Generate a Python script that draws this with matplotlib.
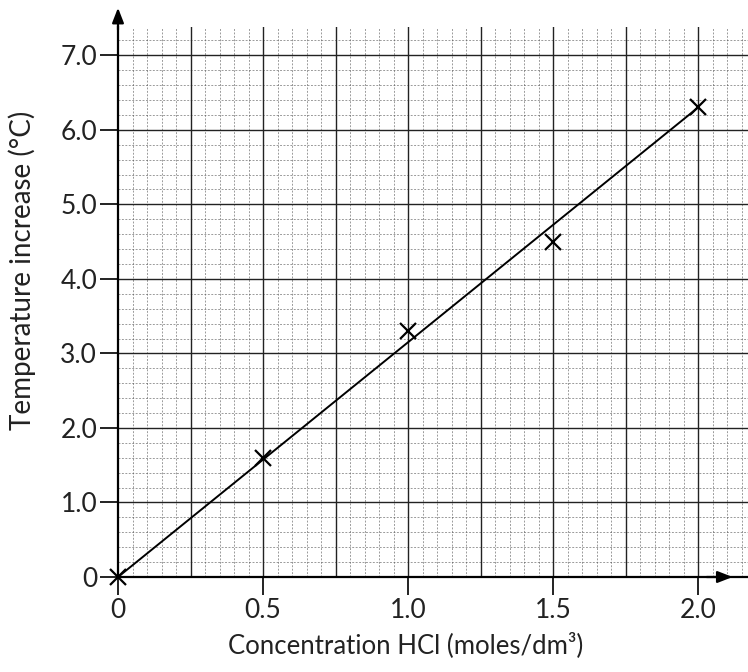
import matplotlib
matplotlib.use("Agg")
import matplotlib.pyplot as plt
from matplotlib.ticker import MultipleLocator

# Data
conc = [0.0, 0.5, 1.0, 1.5, 2.0]
temp_increase = [0.0, 1.6, 3.3, 4.5, 6.3]
fit_x = [0.0, 2.0]
fit_y = [0.0, 6.3]
xtick_vals = [0.0, 0.5, 1.0, 1.5, 2.0]
xtick_labels = ["0", "0.5", "1.0", "1.5", "2.0"]
ytick_vals = [0, 1, 2, 3, 4, 5, 6, 7]
ytick_labels = ["0", "1.0", "2.0", "3.0", "4.0", "5.0", "6.0", "7.0"]

plt.rcParams['font.family'] = ['Lato', 'DejaVu Sans']

fig = plt.figure(figsize=(7.48, 6.72), dpi=100)
ax = fig.add_axes([118/748, 95/672, 630/748, 550/672])

ax.set_xlim(0, 2.172)
ax.set_ylim(0, 7.38)

# graph paper grid
ax.xaxis.set_minor_locator(MultipleLocator(0.05))
ax.yaxis.set_minor_locator(MultipleLocator(0.2))
ax.grid(which='minor', color='#555555', linestyle=(0, (2.5, 2)), linewidth=0.55, alpha=0.75)
for gx in [i * 0.25 for i in range(1, 9)]:
    ax.axvline(gx, color='#222222', linewidth=1.0, zorder=1)
for gy in range(1, 8):
    ax.axhline(gy, color='#222222', linewidth=1.0, zorder=1)
ax.set_axisbelow(True)

# fitted line and data points
ax.plot(fit_x, fit_y, color='black', linewidth=1.4, zorder=3)
ax.plot(conc, temp_increase, linestyle='none', marker='x', markersize=11,
        markeredgewidth=1.6, color='black', zorder=4, clip_on=False)

# ticks
ax.set_xticks(xtick_vals)
ax.set_xticklabels(xtick_labels)
ax.set_yticks(ytick_vals)
ax.set_yticklabels(ytick_labels)
ax.tick_params(axis='both', which='major', direction='out', length=13, width=1.4,
               labelsize=19, colors='#222222')
ax.tick_params(axis='x', pad=2)
ax.tick_params(axis='y', pad=2)
ax.tick_params(which='minor', length=0)

for s in ['top', 'right']:
    ax.spines[s].set_visible(False)
for s in ['left', 'bottom']:
    ax.spines[s].set_linewidth(1.6)
    ax.spines[s].set_color('black')

# axis arrows
ax.annotate('', xy=(0, 1.04), xytext=(0, 0.99), xycoords='axes fraction',
            arrowprops=dict(arrowstyle='-|>,head_length=0.9,head_width=0.35',
                            color='black', lw=1.6), annotation_clip=False)
ax.annotate('', xy=(0.98, 0), xytext=(0.93, 0), xycoords='axes fraction',
            arrowprops=dict(arrowstyle='-|>,head_length=0.9,head_width=0.35',
                            color='black', lw=1.6), annotation_clip=False)

ax.set_ylabel('Temperature increase (°C)', fontsize=20, color='#222222')
ax.set_xlabel('Concentration HCl (moles/dm³)', fontsize=18.5, color='#222222')
ax.yaxis.set_label_coords(-0.152, 0.558)
ax.xaxis.set_label_coords(0.457, -0.124)
ax.xaxis.label.set_va('center')
ax.yaxis.label.set_va('center')

fig.savefig('out.png', dpi=100, facecolor='white')
